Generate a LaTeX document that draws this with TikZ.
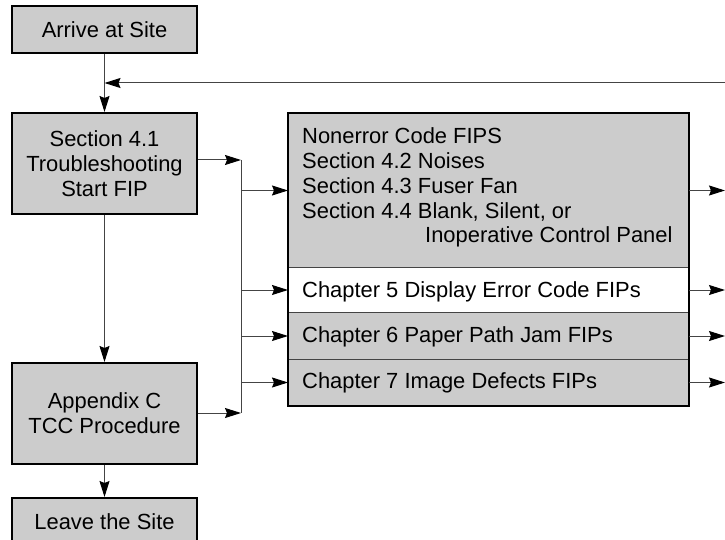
\documentclass[tikz,border=0pt]{standalone}
\usepackage{fontspec}
\setmainfont{Liberation Sans}
\usetikzlibrary{arrows.meta,calc}
\definecolor{boxgray}{HTML}{CCCCCC}
\definecolor{linegray}{HTML}{444444}
\tikzset{
  box/.style={draw=black, line width=2bp, fill=boxgray, minimum width=185bp,
    inner sep=0pt, align=center, anchor=north west, font=\fontsize{22}{25}\selectfont},
  sect/.style={draw=linegray, line width=1bp, minimum width=400bp, inner sep=0pt,
    anchor=north west},
  sectxt/.style={inner sep=0pt, anchor=base west, align=left, font=\fontsize{22}{25}\selectfont},
  conn/.style={draw=linegray, line width=1bp},
  arr/.style={conn, -{Stealth[length=16bp, width=10bp, inset=2bp, color=black]}},
}
\begin{document}
\begin{tikzpicture}[x=1bp, y=-1bp]
\path[use as bounding box] (0,0) rectangle (725,540);
\clip (0,0) rectangle (725,540);
% left column
\node[box, minimum height=47bp] (arrive) at (11,5) {Arrive at Site};
\node[box, minimum height=101bp] (s41) at (11,112) {Section 4.1\\Troubleshooting\\Start FIP};
\node[box, minimum height=101bp] (app) at (11,362) {Appendix C\\TCC Procedure};
\node[box, minimum height=47bp] (leave) at (11,497) {Leave the Site};
% big box sections
\node[sect, fill=boxgray, minimum height=154bp] (nonerr) at (288,113) {};
\node[sect, fill=white, minimum height=45bp] (ch5) at (288,267) {};
\node[sect, fill=boxgray, minimum height=47bp] (ch6) at (288,312) {};
\node[sect, fill=boxgray, minimum height=46bp] (ch7) at (288,359) {};
\draw[line width=2bp] (nonerr.north west) rectangle (ch7.south east);
\node[sectxt] (nonerrtxt) at (302,243) {Nonerror Code FIPS\\Section 4.2 Noises\\Section 4.3 Fuser Fan\\Section 4.4 Blank, Silent, or\\\hspace*{123bp}Inoperative Control Panel};
\node[sectxt] (ch5txt) at (302,297) {Chapter 5 Display Error Code FIPs};
\node[sectxt] (ch6txt) at (302,342) {Chapter 6 Paper Path Jam FIPs};
\node[sectxt] (ch7txt) at (302,388) {Chapter 7 Image Defects FIPs};
% coordinates
\coordinate (bt) at (241,160);
\coordinate (bb) at (241,413);
\coordinate (fbin) at (726,83);
\coordinate (redge) at (725,0);
% connectors
\draw[arr] (arrive.south) -- (s41.north);
\draw[arr] (fbin) -- (arrive.south |- fbin);
\draw[arr] (s41.south) -- (app.north);
\draw[arr] (app.south) -- (leave.north);
\draw[arr] (s41.east |- bt) -- (bt);
\draw[arr] (app.east |- bb) -- (bb);
\draw[conn] (bt) -- (bb);
\draw[arr] (bt |- nonerr.west) -- (nonerr.west);
\draw[arr] (bt |- ch5.west) -- (ch5.west);
\draw[arr] (bt |- ch6.west) -- (ch6.west);
\draw[arr] (bt |- ch7.west) -- (ch7.west);
\draw[arr] (nonerr.east) -- (nonerr.east -| redge);
\draw[arr] (ch5.east) -- (ch5.east -| redge);
\draw[arr] (ch6.east) -- (ch6.east -| redge);
\draw[arr] (ch7.east) -- (ch7.east -| redge);
\end{tikzpicture}
\end{document}
